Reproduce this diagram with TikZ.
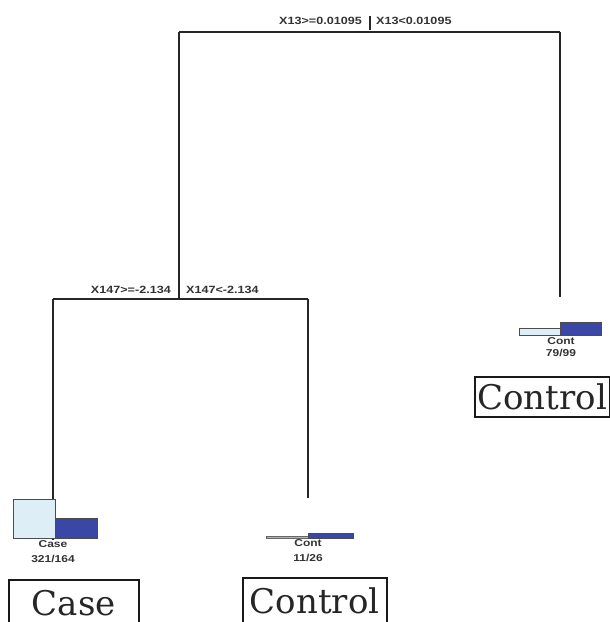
\documentclass[tikz,border=0pt]{standalone}
\usepackage{fontspec}
\newfontfamily\lab[FakeStretch=1.2]{Liberation Sans}
\newfontfamily\cls{DejaVu Serif}
\definecolor{lightfill}{HTML}{DDEEF6}
\definecolor{darkfill}{HTML}{3A47A6}
\begin{document}
\begin{tikzpicture}[x=1pt,y=-1pt,
  edge/.style={draw=black!85, line width=1.6pt},
  splitlab/.style={font=\lab\bfseries\fontsize{10.5}{12}\selectfont, text=black!80, inner sep=0pt},
  leaflab/.style={font=\lab\bfseries\fontsize{10}{11}\selectfont, text=black!80, inner sep=0pt},
  classbox/.style={draw=black!90, line width=1.5pt, font=\cls\fontsize{34}{38}\selectfont, text=black!85, inner sep=0pt, anchor=north west},
  lightbar/.style={fill=lightfill, draw=black!70, line width=0.6pt},
  darkbar/.style={fill=darkfill, draw=black!70, line width=0.6pt}
]
\useasboundingbox (0,0) rectangle (610,622);

% split coordinates
\coordinate (r) at (370,32);
\coordinate (rl) at (179,32);
\coordinate (rr) at (560,32);
\coordinate (s2) at (179,299);
\coordinate (s2l) at (53,299);
\coordinate (s2r) at (308,299);
\coordinate (leafA) at (53,540);
\coordinate (leafB) at (308,498);
\coordinate (leafC) at (560,297);
\coordinate (tickA) at (370,16);
\coordinate (tickB) at (370,30);

% top split
\draw[edge] (rl) -- (rr);
\draw[edge, line width=1.2pt] (tickA) -- (tickB);
\node[splitlab, anchor=east] (t1) at (362,21) {X13>=0.01095};
\node[splitlab, anchor=west] (t2) at (376,21) {X13<0.01095};
\draw[edge] (rl) -- (s2);
\draw[edge] (rr) -- (leafC);

% second split
\draw[edge] (s2l) -- (s2r);
\node[splitlab, anchor=east] (t3) at (171,290) {X147>=-2.134};
\node[splitlab, anchor=west] (t4) at (186,290) {X147<-2.134};
\draw[edge] (s2l) -- (leafA);
\draw[edge] (s2r) -- (leafB);

% leaf A bars
\node[leaflab] (caseA) at (53,544) {Case};
\node[leaflab] (numA) at (53,559) {321/164};
\draw[lightbar] (13,499) rectangle (55,538);
\draw[darkbar] (55,518) rectangle (97,538);

% leaf B bars
\node[leaflab] (contB) at (308,543) {Cont};
\node[leaflab] (numB) at (308,558) {11/26};
\draw[fill=black!55!green!40, draw=black!60, line width=0.4pt] (266,536.5) rectangle (308,538.5);
\draw[darkbar] (308,533) rectangle (353,538.5);

% leaf C bars
\draw[lightbar] (519,328) rectangle (560,335);
\draw[darkbar] (560,322) rectangle (601,335);
\node[leaflab] (contC) at (561,341) {Cont};
\node[leaflab] (numC) at (561,353) {79/99};

% class boxes
\node[classbox, minimum width=135pt, minimum height=40pt] (boxC) at (474,376) {Control};
\node[classbox, minimum width=130pt, minimum height=46pt] (boxA) at (8,579) {Case};
\node[classbox, minimum width=144pt, minimum height=46pt] (boxB) at (242,577) {Control};
\end{tikzpicture}
\end{document}
